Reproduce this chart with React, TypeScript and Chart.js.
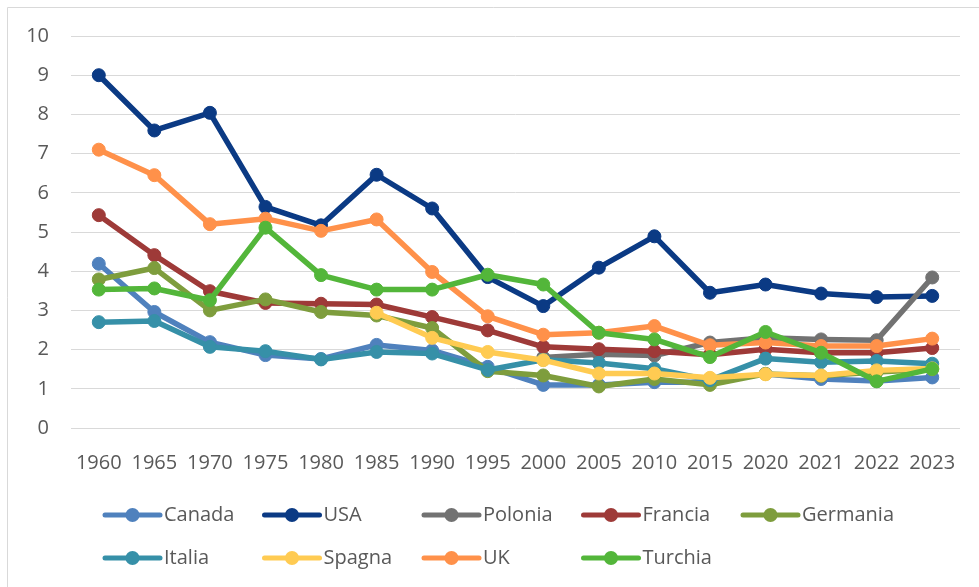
import React, { useEffect, useRef } from "react";
import { Chart, registerables } from "chart.js";

Chart.register(...registerables);

const years = ["1960", "1965", "1970", "1975", "1980", "1985", "1990", "1995", "2000", "2005", "2010", "2015", "2020", "2021", "2022", "2023"];

const canada = [4.19, 2.96, 2.19, 1.86, 1.76, 2.12, 1.98, 1.56, 1.1, 1.1, 1.17, 1.17, 1.38, 1.25, 1.2, 1.29];
const usa = [9.0, 7.59, 8.04, 5.64, 5.17, 6.46, 5.6, 3.85, 3.11, 4.09, 4.89, 3.45, 3.66, 3.43, 3.34, 3.37];
const polonia = [null, null, null, null, null, null, null, null, 1.8, 1.88, 1.85, 2.18, 2.3, 2.26, 2.24, 3.84];
const francia = [5.43, 4.41, 3.49, 3.19, 3.17, 3.15, 2.83, 2.49, 2.07, 2.01, 1.96, 1.87, 2.01, 1.92, 1.92, 2.04];
const germania = [3.79, 4.08, 3.0, 3.28, 2.96, 2.87, 2.55, 1.45, 1.34, 1.06, 1.25, 1.1, 1.38, 1.33, 1.43, 1.5];
const italia = [2.7, 2.73, 2.07, 1.96, 1.75, 1.94, 1.9, 1.48, 1.74, 1.66, 1.51, 1.22, 1.77, 1.68, 1.71, 1.64];
const spagna = [null, null, null, null, null, 2.94, 2.3, 1.94, 1.73, 1.39, 1.39, 1.28, 1.37, 1.34, 1.47, 1.52];
const uk = [7.1, 6.45, 5.2, 5.34, 5.03, 5.32, 3.98, 2.85, 2.38, 2.43, 2.6, 2.11, 2.18, 2.09, 2.09, 2.28];
const turchia = [3.53, 3.56, 3.26, 5.11, 3.9, 3.53, 3.53, 3.91, 3.66, 2.43, 2.26, 1.81, 2.45, 1.92, 1.19, 1.51];

const seriesNames = ["Canada", "USA", "Polonia", "Francia", "Germania", "Italia", "Spagna", "UK", "Turchia"];
const seriesData = [canada, usa, polonia, francia, germania, italia, spagna, uk, turchia];
const seriesColors = ["#4F81BD", "#0B3A84", "#727272", "#9E3A38", "#7E9D3D", "#3690A8", "#FFCB52", "#FF914A", "#53B63A"];

const yTicks = [0, 1, 2, 3, 4, 5, 6, 7, 8, 9, 10];

const FONT = "'Open Sans', 'DejaVu Sans', sans-serif";
const TEXT = "#595959";

const legendPlugin = {
  id: "gridLegend",
  afterDraw(chart: any) {
    const ctx = chart.ctx;
    ctx.save();
    // outer chart border (left/top visible)
    ctx.strokeStyle = "#D9D9D9";
    ctx.lineWidth = 1;
    ctx.beginPath();
    ctx.moveTo(7.5, 600);
    ctx.lineTo(7.5, 7.5);
    ctx.lineTo(990, 7.5);
    ctx.stroke();

    const cols = 5;
    const x0 = 105;
    const colW = 159.5;
    const rowsY = [515, 558];
    const lineLen = 55;
    chart.data.datasets.forEach((ds: any, i: number) => {
      const col = i % cols;
      const row = Math.floor(i / cols);
      const x = x0 + col * colW;
      const y = rowsY[row];
      ctx.strokeStyle = ds.borderColor;
      ctx.lineWidth = 5;
      ctx.lineCap = "round";
      ctx.beginPath();
      ctx.moveTo(x, y);
      ctx.lineTo(x + lineLen, y);
      ctx.stroke();
      ctx.fillStyle = ds.borderColor;
      ctx.beginPath();
      ctx.arc(x + lineLen / 2, y, 7, 0, Math.PI * 2);
      ctx.fill();
      ctx.fillStyle = TEXT;
      ctx.font = `20px ${FONT}`;
      ctx.textAlign = "left";
      ctx.textBaseline = "middle";
      ctx.fillText(ds.label, x + lineLen + 4, y);
    });
    ctx.restore();
  },
};

export default function App() {
  const ref = useRef<HTMLCanvasElement | null>(null);

  useEffect(() => {
    document.body.style.margin = "0";
    let chart: Chart | null = null;
    let cancelled = false;
    const make = () => {
      if (cancelled || !ref.current) return;
      chart = new Chart(ref.current, {
        type: "line",
        data: {
          labels: years,
          datasets: seriesNames.map((name, i) => ({
            label: name,
            data: seriesData[i] as any,
            borderColor: seriesColors[i],
            backgroundColor: seriesColors[i],
            pointBackgroundColor: seriesColors[i],
            pointBorderColor: seriesColors[i],
            pointRadius: 6.5,
            pointBorderWidth: 1,
            borderWidth: 5.5,
            borderJoinStyle: "round",
            tension: 0,
            spanGaps: false,
            order: seriesNames.length - i,
          })),
        },
        options: {
          responsive: false,
          animation: false,
          layout: { padding: { top: 36, right: 19, bottom: 109, left: 0 } },
          plugins: {
            legend: { display: false },
            tooltip: { enabled: false },
          },
          scales: {
            x: {
              type: "category",
              offset: true,
              grid: { display: false, drawTicks: false },
              border: { display: false },
              ticks: {
                color: TEXT,
                font: { family: FONT, size: 20 },
                padding: 23,
                maxRotation: 0,
                autoSkip: false,
              },
              afterFit(scale: any) {
                scale.height = 50;
              },
            },
            y: {
              min: 0,
              max: 10,
              afterBuildTicks(scale: any) {
                scale.ticks = yTicks.map((v) => ({ value: v }));
              },
              grid: { color: "#D9D9D9", lineWidth: 1, drawTicks: false },
              border: { display: false },
              ticks: {
                color: TEXT,
                font: { family: FONT, size: 20 },
                padding: 22,
              },
              afterFit(scale: any) {
                scale.width = 71;
              },
            },
          },
        },
        plugins: [legendPlugin],
      });
    };
    const fontsApi = (document as any).fonts;
    if (fontsApi && fontsApi.load) {
      fontsApi.load(`20px 'Open Sans'`).then(make, make);
    } else {
      make();
    }
    return () => {
      cancelled = true;
      if (chart) chart.destroy();
    };
  }, []);

  return (
    <div style={{ width: 979, height: 587, background: "#fff" }}>
      <canvas ref={ref} width={979} height={587} style={{ display: "block", width: 979, height: 587 }} />
    </div>
  );
}
